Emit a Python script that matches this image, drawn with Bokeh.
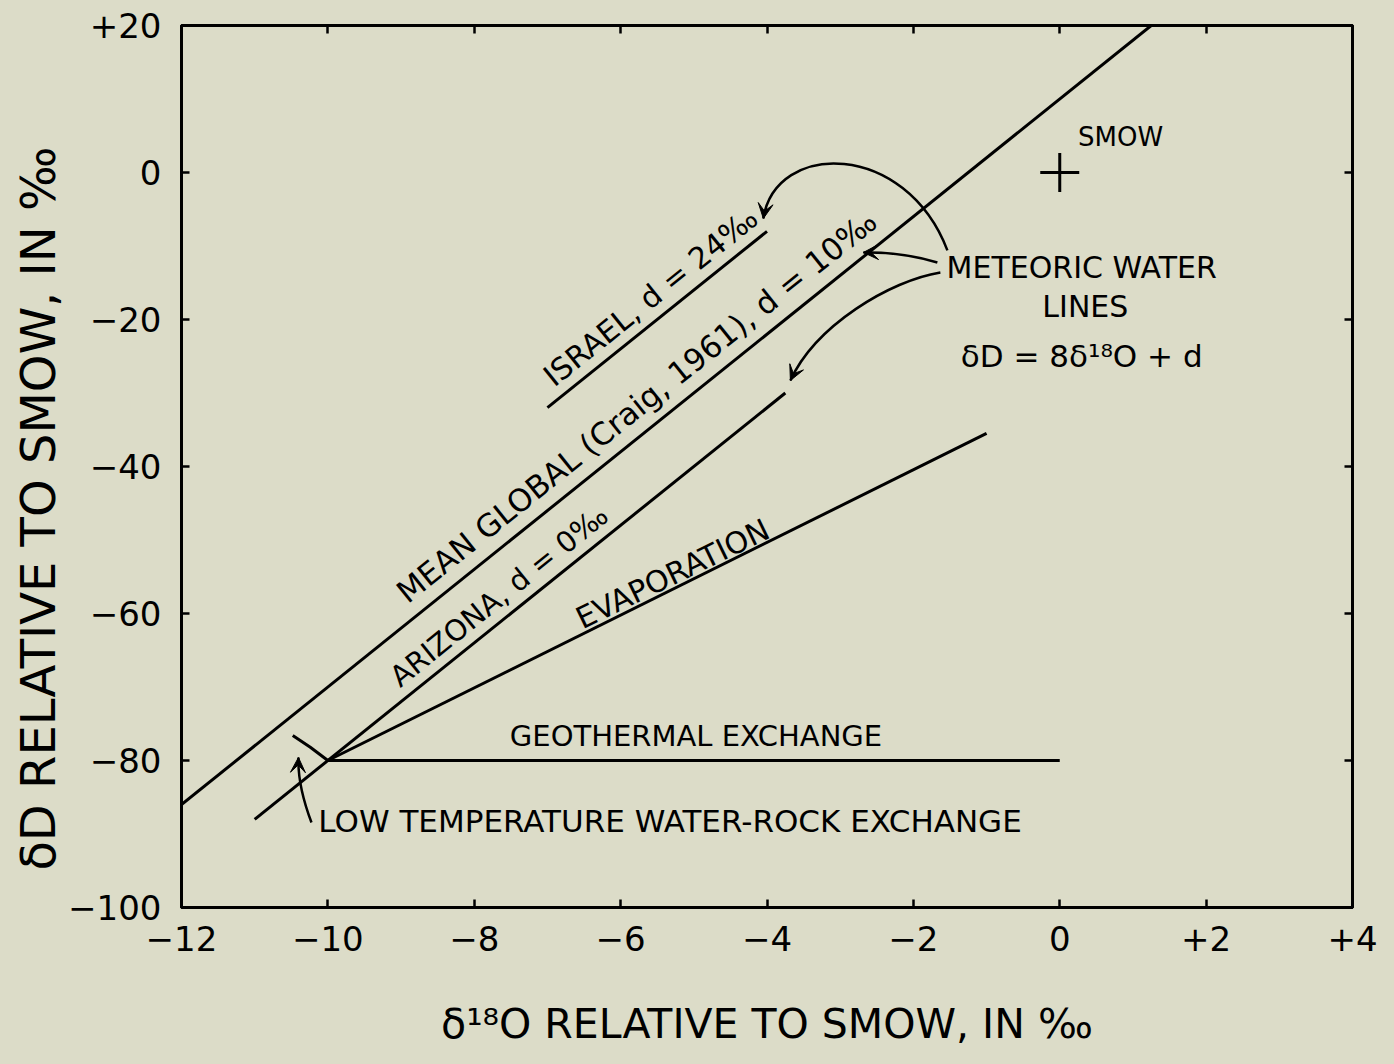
import math
from bokeh.plotting import figure
from bokeh.models import (Range1d, LinearAxis, FixedTicker, Arrow, VeeHead,
                          Label, Title)
from bokeh.embed import file_html
from bokeh.resources import INLINE

BG = "#dcdcc8"
FONT = "DejaVu Sans"

# ---- axes ----
x_ticks = [-12, -10, -8, -6, -4, -2, 0, 2, 4]
x_tick_labels = ["−12", "−10", "−8", "−6", "−4", "−2", "0", "+2", "+4"]
y_ticks = [-100, -80, -60, -40, -20, 0, 20]
y_tick_labels = ["−100", "−80", "−60", "−40", "−20", "0", "+20"]
x_title = "δ¹⁸O RELATIVE TO SMOW, IN ‰"
y_title = "δD RELATIVE TO SMOW, IN ‰"

# ---- lines (delta18O, deltaD) ----
mean_global_x = [-12.0, 1.25]
mean_global_y = [-86.0, 20.0]
israel_x = [-7.0, -4.0]
israel_y = [-32.0, -8.0]
arizona_x = [-11.0, -3.75]
arizona_y = [-88.0, -30.0]
evaporation_x = [-10.0, -1.0]
evaporation_y = [-80.0, -35.5]
geothermal_x = [-10.0, 0.0]
geothermal_y = [-80.0, -80.0]
low_temp_x = [-10.48, -10.24, -10.0]
low_temp_y = [-76.6, -78.2, -80.0]
smow_x = [0.0]
smow_y = [0.0]

# ---- annotation arrows: (x0, y0, cx0, cy0, cx1, cy1, x1, y1) ----
arrow_israel = (-1.535, -10.6, -2.109, 4.35, -3.885, 4.35, -4.05, -6.26)
arrow_arizona = (-1.631, -13.6, -2.314, -14.69, -3.339, -20.82, -3.68, -28.3)
# quadratic: (x0, y0, cx, cy, x1, y1)
arrow_global = (-1.672, -12.24, -2.178, -10.75, -2.683, -10.88)
arrow_lowtemp = (-10.224, -88.44, -10.415, -83.4, -10.402, -79.59)

# ---- texts ----
line_labels = ["ISRAEL, d = 24‰", "MEAN GLOBAL (Craig, 1961), d = 10‰",
               "ARIZONA, d = 0‰", "EVAPORATION"]
line_label_x = [-5.59, -5.78, -7.66, -5.29]
line_label_y = [-16.9, -31.8, -57.6, -54.6]
line_label_deg = [38.8, 38.8, 38.8, 26.0]
line_label_size = ["30px", "31px", "29px", "30px"]

p = figure(frame_width=1171, frame_height=882,
           x_range=Range1d(-12, 4), y_range=Range1d(-100, 20),
           output_backend="svg", toolbar_location=None,
           min_border_left=181, min_border_top=25, min_border_right=30,
           min_border_bottom=130,
           background_fill_color=BG, border_fill_color=BG,
           outline_line_color="black", outline_line_width=3,
           x_axis_label=x_title)
p.grid.visible = False

xa = p.xaxis[0]
ya = p.yaxis[0]
xa.ticker = FixedTicker(ticks=x_ticks)
ya.ticker = FixedTicker(ticks=y_ticks)
xa.major_label_overrides = {t: l for t, l in zip(x_ticks, x_tick_labels)}
ya.major_label_overrides = {t: l for t, l in zip(y_ticks, y_tick_labels)}

top_ax = LinearAxis(ticker=FixedTicker(ticks=x_ticks),
                    major_label_overrides={t: "" for t in x_ticks})
right_ax = LinearAxis(ticker=FixedTicker(ticks=y_ticks),
                      major_label_overrides={t: "" for t in y_ticks})
p.add_layout(top_ax, "above")
p.add_layout(right_ax, "right")

for ax in [xa, ya, top_ax, right_ax]:
    ax.axis_line_width = 3
    ax.axis_line_color = "black"
    ax.major_tick_in = 8
    ax.major_tick_out = 0
    ax.major_tick_line_width = 2.5
    ax.major_tick_line_color = "black"
    ax.minor_tick_line_color = None
    ax.major_label_text_font = FONT
    ax.major_label_text_font_size = "34px"
    ax.major_label_text_color = "black"
    ax.axis_label_text_font = FONT
    ax.axis_label_text_font_size = "41px"
    ax.axis_label_text_font_style = "normal"
    ax.axis_label_text_color = "black"
xa.major_label_standoff = 18
ya.major_label_standoff = 20
xa.axis_label_standoff = 46
top_ax.major_label_standoff = 0
right_ax.major_label_standoff = 0

# y-axis title as a left-side title, starting a little above the frame bottom
p.add_layout(Title(text=y_title, align="left", offset=37, standoff=0,
                   text_font=FONT, text_font_size="48px",
                   text_font_style="normal", text_color="black"), "left")

LW = 3
for xs, ys in [(mean_global_x, mean_global_y), (israel_x, israel_y),
               (arizona_x, arizona_y), (evaporation_x, evaporation_y),
               (geothermal_x, geothermal_y), (low_temp_x, low_temp_y)]:
    p.line(xs, ys, line_color="black", line_width=LW)

p.scatter(smow_x, smow_y, marker="cross", size=39, line_width=3,
          line_color="black")

# curved arrows
AW = 2.5
def head(x1, y1, cx, cy):
    f = 0.04
    p.add_layout(Arrow(end=VeeHead(size=15, fill_color="black",
                                   line_color="black", line_width=1),
                       x_start=x1 + f * (cx - x1), y_start=y1 + f * (cy - y1),
                       x_end=x1, y_end=y1, line_alpha=0))

for a in [arrow_israel, arrow_arizona]:
    x0, y0, cx0, cy0, cx1, cy1, x1, y1 = a
    p.bezier(x0=[x0], y0=[y0], x1=[x1], y1=[y1], cx0=[cx0], cy0=[cy0],
             cx1=[cx1], cy1=[cy1], line_color="black", line_width=AW)
    head(x1, y1, cx1, cy1)
for a in [arrow_global, arrow_lowtemp]:
    x0, y0, cx, cy, x1, y1 = a
    p.quadratic(x0=[x0], y0=[y0], x1=[x1], y1=[y1], cx=[cx], cy=[cy],
                line_color="black", line_width=AW)
    head(x1, y1, cx, cy)

for t, x, y, d, s in zip(line_labels, line_label_x, line_label_y,
                         line_label_deg, line_label_size):
    p.add_layout(Label(x=x, y=y, text=t, angle=math.radians(d),
                       text_align="center", text_baseline="middle",
                       text_font=FONT, text_font_size=s,
                       text_color="black"))

plain = [
    ("SMOW", 0.25, 4.8, "left", "26px"),
    ("METEORIC WATER", 0.30, -12.9, "center", "30px"),
    ("LINES", 0.35, -18.2, "center", "30px"),
    ("δD = 8δ¹⁸O + d", 0.30, -24.9, "center", "31px"),
    ("GEOTHERMAL EXCHANGE", -4.97, -76.6, "center", "29px"),
    ("LOW TEMPERATURE WATER-ROCK EXCHANGE", -10.13, -88.2, "left", "31px"),
]
for t, x, y, al, s in plain:
    p.add_layout(Label(x=x, y=y, text=t, text_align=al,
                       text_baseline="middle", text_font=FONT,
                       text_font_size=s, text_color="black"))

html = file_html(p, INLINE)
html = html.replace("</head>",
                    "<style>html,body{background:%s;overflow:hidden;}</style></head>" % BG)
open("out.html", "w").write(html)
